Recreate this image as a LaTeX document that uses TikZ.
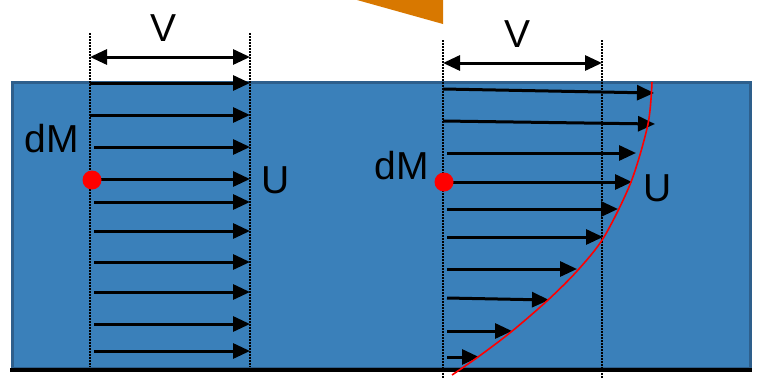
\documentclass[tikz,border=0pt]{standalone}
\usepackage{fontspec}
\setmainfont{Liberation Sans}
\usetikzlibrary{arrows.meta}
\definecolor{fluid}{HTML}{3A80BA}
\definecolor{fluidedge}{HTML}{2E5F8C}
\definecolor{wedge}{HTML}{D87800}
\tikzset{
  vec/.style={line width=3pt,-{Triangle[length=17pt,width=15pt]}},
  dimarrow/.style={line width=3pt,{Triangle[length=17pt,width=15pt]}-{Triangle[length=17pt,width=15pt]}},
  guide/.style={line width=1.6pt,dash pattern=on 1.5pt off 1.5pt},
  lbl/.style={font=\fontsize{39}{40}\selectfont,inner sep=0pt},
  dot/.style={circle,fill=red,minimum size=19pt,inner sep=0pt},
}
\begin{document}
\begin{tikzpicture}[x=1pt,y=-1pt]
\useasboundingbox (0,0) rectangle (760,378);
% orange wedge
\fill[wedge] (357,0) -- (443,0) -- (443,24) -- cycle;
% fluid
\draw[fill=fluid,draw=fluidedge,line width=3pt] (12,82) rectangle (750,368);
\draw[line width=4pt] (10,370) -- (752,370);

% ---------- left panel ----------
\coordinate (LgT) at (90,33);  \coordinate (LgB) at (90,367);
\coordinate (RgT) at (250,33); \coordinate (RgB) at (250,367);
\draw[guide] (LgT) -- (LgB);
\draw[guide] (RgT) -- (RgB);
\coordinate (LdA) at (90,57); \coordinate (LdB) at (250,57);
\draw[dimarrow] (LdA) -- (LdB);
\node[lbl] (LV) at (164,28) {V};
\foreach \y/\s [count=\i] in {83/90,115/90,147/94,179/100,202/94,231/94,262/94,292/94,324/94,351/94}{
  \coordinate (La\i) at (\s,\y);
  \coordinate (Lb\i) at (250,\y);
  \draw[vec] (La\i) -- (Lb\i);
}
\node[dot] (Ldot) at (92,180) {};
\node[lbl] (LdM) at (52,139) {dM};
\node[lbl] (LU) at (276,180) {U};

% ---------- right panel ----------
\coordinate (RlT) at (443,40);  \coordinate (RlB) at (443,378);
\coordinate (RrT) at (602,40);  \coordinate (RrB) at (602,378);
\draw[guide] (RlT) -- (RlB);
\draw[guide] (RrT) -- (RrB);
\coordinate (RdA) at (443,63); \coordinate (RdB) at (602,63);
\draw[dimarrow] (RdA) -- (RdB);
\node[lbl] (RV) at (517,34) {V};
\foreach \s/\ya/\yb/\e [count=\i] in {443/89/93/654,443/121/124/655,447/153/153/636,453/182/182/632,447/209/209/618,447/237/237/603,447/269/269/577,447/298/300/549,447/331/331/512,447/357/357/479}{
  \coordinate (Ra\i) at (\s,\ya);
  \coordinate (Rb\i) at (\e,\yb);
  \draw[vec] (Ra\i) -- (Rb\i);
}
% velocity profile
\coordinate (P0) at (652,82);
\coordinate (P1) at (648,124);
\coordinate (P2) at (631,182);
\coordinate (P3) at (604,237);
\coordinate (P4) at (578,270);
\coordinate (P5) at (548,300);
\coordinate (P6) at (511,332);
\coordinate (P7) at (478,357);
\coordinate (P8) at (452,375);
\draw[red,line width=1.6pt] plot[smooth,tension=0.5] coordinates {(P0) (P1) (P2) (P3) (P4) (P5) (P6) (P7) (P8)};
\node[dot] (Rdot) at (444,182) {};
\node[lbl] (RdM) at (402,166) {dM};
\node[lbl] (RU) at (658,188) {U};
\end{tikzpicture}
\end{document}
